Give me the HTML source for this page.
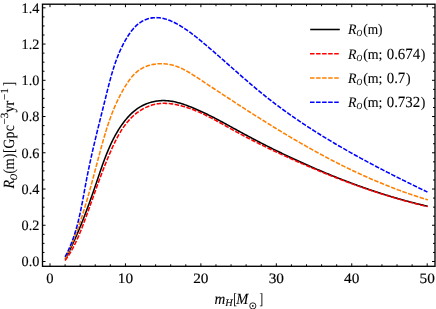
<!DOCTYPE html>
<html><head><meta charset="utf-8"><title>plot</title>
<style>html,body{margin:0;padding:0;background:#fff}svg{display:block;will-change:transform;transform:translateZ(0)}</style></head>
<body>
<svg width="436" height="309" viewBox="0 0 436 309">
<rect width="436" height="309" fill="#fff"/>
<clipPath id="c"><rect x="42.5" y="4.2" width="392.5" height="262.1"/></clipPath>
<g clip-path="url(#c)" fill="none" stroke-width="1.55" stroke-linejoin="round">
<path d="M65.25,259.16 L65.82,258.06 L66.38,256.97 L66.93,255.88 L67.49,254.79 L68.03,253.69 L68.58,252.60 L69.12,251.51 L69.65,250.41 L70.18,249.32 L70.71,248.22 L71.23,247.13 L71.75,246.03 L72.26,244.94 L72.77,243.84 L73.27,242.74 L73.77,241.65 L74.27,240.55 L74.77,239.45 L75.26,238.35 L75.74,237.25 L76.22,236.15 L76.70,235.05 L77.18,233.95 L77.65,232.85 L78.12,231.74 L78.59,230.64 L79.05,229.53 L79.51,228.43 L79.97,227.32 L80.42,226.22 L80.87,225.11 L81.32,224.00 L81.77,222.89 L82.21,221.78 L82.65,220.67 L83.09,219.56 L83.52,218.45 L83.96,217.33 L84.39,216.22 L84.81,215.10 L85.24,213.99 L85.66,212.87 L86.09,211.75 L86.51,210.63 L86.92,209.51 L87.34,208.39 L87.75,207.27 L88.17,206.14 L88.58,205.02 L88.99,203.89 L89.40,202.77 L89.80,201.64 L90.21,200.51 L90.61,199.38 L91.01,198.24 L91.42,197.11 L91.82,195.98 L92.22,194.84 L92.61,193.70 L93.01,192.56 L93.41,191.42 L93.80,190.28 L94.20,189.14 L94.59,187.99 L94.99,186.85 L95.38,185.70 L95.77,184.55 L96.17,183.40 L96.56,182.25 L96.95,181.10 L97.34,179.94 L97.74,178.78 L98.13,177.63 L98.52,176.47 L98.91,175.31 L99.31,174.15 L99.71,172.99 L100.10,171.82 L100.50,170.66 L100.90,169.50 L101.31,168.34 L101.71,167.18 L102.12,166.02 L102.53,164.86 L102.94,163.70 L103.36,162.54 L103.78,161.39 L104.21,160.23 L104.64,159.08 L105.07,157.93 L105.51,156.78 L105.96,155.64 L106.41,154.50 L106.86,153.36 L107.32,152.22 L107.79,151.09 L108.26,149.96 L108.74,148.83 L109.23,147.71 L109.72,146.59 L110.22,145.48 L110.73,144.37 L111.24,143.26 L111.76,142.17 L112.29,141.07 L112.83,139.98 L113.38,138.90 L113.94,137.82 L114.51,136.75 L115.08,135.68 L115.67,134.62 L116.26,133.57 L116.87,132.53 L117.49,131.49 L118.11,130.45 L118.75,129.43 L119.40,128.41 L120.06,127.40 L120.73,126.40 L121.42,125.41 L122.11,124.42 L122.82,123.45 L123.55,122.48 L124.28,121.52 L125.03,120.57 L125.79,119.63 L126.56,118.70 L127.35,117.78 L128.16,116.88 L128.98,115.99 L129.81,115.12 L130.66,114.26 L131.52,113.42 L132.41,112.60 L133.30,111.81 L134.22,111.03 L135.15,110.28 L136.10,109.56 L137.07,108.86 L138.05,108.19 L139.05,107.54 L140.07,106.92 L141.11,106.34 L142.15,105.77 L143.22,105.24 L144.29,104.73 L145.38,104.26 L146.48,103.81 L147.59,103.39 L148.71,103.00 L149.84,102.63 L150.98,102.30 L152.13,101.99 L153.29,101.72 L154.45,101.47 L155.62,101.26 L156.79,101.07 L157.97,100.91 L159.15,100.79 L160.34,100.69 L161.53,100.62 L162.72,100.59 L163.91,100.58 L165.11,100.61 L166.30,100.67 L167.49,100.75 L168.68,100.87 L169.87,101.01 L171.07,101.18 L172.26,101.37 L173.44,101.59 L174.63,101.83 L175.82,102.10 L177.00,102.38 L178.18,102.69 L179.36,103.01 L180.54,103.36 L181.71,103.71 L182.88,104.09 L184.05,104.48 L185.22,104.88 L186.38,105.30 L187.54,105.73 L188.70,106.16 L189.85,106.61 L190.99,107.07 L192.14,107.53 L193.28,108.00 L194.41,108.47 L195.54,108.95 L196.66,109.44 L197.78,109.93 L198.90,110.42 L200.01,110.92 L201.12,111.43 L202.23,111.94 L203.33,112.45 L204.43,112.97 L205.53,113.49 L206.62,114.02 L207.71,114.55 L208.79,115.09 L209.88,115.62 L210.96,116.17 L212.04,116.71 L213.11,117.26 L214.18,117.81 L215.26,118.36 L216.32,118.92 L217.39,119.48 L218.46,120.04 L219.52,120.60 L220.58,121.17 L221.64,121.74 L222.70,122.30 L223.76,122.88 L224.81,123.45 L225.87,124.02 L226.92,124.60 L227.98,125.17 L229.03,125.75 L230.08,126.33 L231.14,126.90 L232.19,127.48 L233.24,128.06 L234.29,128.64 L235.34,129.22 L236.39,129.80 L237.45,130.38 L238.50,130.96 L239.55,131.53 L240.60,132.11 L241.66,132.69 L242.71,133.26 L243.77,133.83 L244.83,134.41 L245.89,134.98 L246.95,135.55 L248.01,136.12 L249.07,136.68 L250.13,137.25 L251.19,137.81 L252.26,138.38 L253.32,138.94 L254.39,139.50 L255.46,140.06 L256.53,140.62 L257.60,141.17 L258.67,141.73 L259.74,142.28 L260.81,142.83 L261.88,143.39 L262.96,143.94 L264.03,144.48 L265.11,145.03 L266.19,145.58 L267.27,146.12 L268.35,146.66 L269.43,147.21 L270.51,147.75 L271.59,148.28 L272.67,148.82 L273.75,149.36 L274.84,149.89 L275.92,150.43 L277.01,150.96 L278.10,151.49 L279.18,152.02 L280.27,152.54 L281.36,153.07 L282.45,153.59 L283.54,154.12 L284.64,154.64 L285.73,155.16 L286.82,155.68 L287.92,156.20 L289.01,156.71 L290.11,157.23 L291.20,157.74 L292.30,158.25 L293.40,158.76 L294.50,159.27 L295.60,159.78 L296.70,160.28 L297.80,160.79 L298.90,161.29 L300.00,161.79 L301.10,162.29 L302.21,162.79 L303.31,163.29 L304.41,163.78 L305.52,164.28 L306.63,164.77 L307.73,165.26 L308.84,165.75 L309.95,166.23 L311.06,166.72 L312.17,167.21 L313.27,167.69 L314.39,168.17 L315.50,168.65 L316.61,169.13 L317.72,169.60 L318.83,170.08 L319.94,170.55 L321.06,171.03 L322.17,171.50 L323.29,171.96 L324.40,172.43 L325.52,172.90 L326.63,173.36 L327.75,173.82 L328.87,174.28 L329.99,174.74 L331.11,175.20 L332.23,175.66 L333.35,176.11 L334.47,176.56 L335.59,177.01 L336.71,177.46 L337.83,177.91 L338.95,178.35 L340.08,178.79 L341.20,179.24 L342.33,179.68 L343.45,180.11 L344.58,180.55 L345.71,180.98 L346.83,181.41 L347.96,181.84 L349.09,182.27 L350.22,182.70 L351.35,183.12 L352.48,183.55 L353.61,183.97 L354.75,184.38 L355.88,184.80 L357.01,185.22 L358.15,185.63 L359.28,186.04 L360.42,186.45 L361.55,186.85 L362.69,187.26 L363.83,187.66 L364.97,188.06 L366.11,188.46 L367.25,188.85 L368.39,189.25 L369.53,189.64 L370.67,190.03 L371.81,190.42 L372.96,190.80 L374.10,191.18 L375.25,191.56 L376.39,191.94 L377.54,192.32 L378.69,192.69 L379.83,193.06 L380.98,193.43 L382.13,193.80 L383.28,194.17 L384.43,194.53 L385.59,194.89 L386.74,195.25 L387.89,195.60 L389.05,195.96 L390.20,196.31 L391.36,196.65 L392.52,197.00 L393.68,197.34 L394.83,197.69 L395.99,198.02 L397.15,198.36 L398.31,198.69 L399.48,199.03 L400.64,199.35 L401.80,199.68 L402.97,200.00 L404.13,200.33 L405.30,200.64 L406.47,200.96 L407.64,201.27 L408.80,201.58 L409.97,201.89 L411.15,202.20 L412.32,202.50 L413.49,202.80 L414.66,203.10 L415.84,203.40 L417.01,203.69 L418.19,203.98 L419.37,204.26 L420.54,204.55 L421.72,204.83 L422.90,205.11 L424.08,205.39 L425.27,205.66 L426.45,205.93 L427.63,206.20" stroke="#000"/>
<path d="M65.04,260.51 L65.75,259.53 L66.45,258.55 L67.13,257.57 L67.80,256.57 L68.45,255.56 L69.10,254.55 L69.73,253.53 L70.35,252.50 L70.96,251.47 L71.55,250.43 L72.14,249.38 L72.72,248.33 L73.28,247.27 L73.84,246.20 L74.38,245.13 L74.92,244.06 L75.45,242.97 L75.97,241.89 L76.48,240.80 L76.98,239.70 L77.48,238.60 L77.97,237.50 L78.45,236.40 L78.93,235.29 L79.40,234.18 L79.86,233.06 L80.32,231.94 L80.77,230.83 L81.22,229.71 L81.66,228.58 L82.10,227.46 L82.53,226.33 L82.96,225.21 L83.39,224.08 L83.81,222.95 L84.23,221.83 L84.65,220.70 L85.06,219.57 L85.48,218.45 L85.89,217.32 L86.30,216.20 L86.71,215.08 L87.12,213.95 L87.52,212.83 L87.93,211.71 L88.33,210.58 L88.73,209.46 L89.14,208.34 L89.54,207.22 L89.94,206.10 L90.34,204.98 L90.73,203.86 L91.13,202.74 L91.53,201.62 L91.93,200.50 L92.33,199.38 L92.72,198.26 L93.12,197.14 L93.52,196.02 L93.92,194.90 L94.32,193.78 L94.71,192.66 L95.11,191.54 L95.51,190.42 L95.92,189.30 L96.32,188.19 L96.72,187.07 L97.13,185.95 L97.53,184.83 L97.94,183.71 L98.35,182.59 L98.76,181.47 L99.17,180.35 L99.58,179.23 L100.00,178.11 L100.41,176.99 L100.83,175.87 L101.25,174.74 L101.68,173.62 L102.11,172.50 L102.53,171.38 L102.97,170.26 L103.40,169.13 L103.84,168.01 L104.28,166.88 L104.72,165.76 L105.17,164.63 L105.61,163.51 L106.07,162.38 L106.52,161.25 L106.98,160.13 L107.45,159.00 L107.91,157.87 L108.39,156.74 L108.86,155.61 L109.34,154.48 L109.82,153.35 L110.31,152.21 L110.80,151.08 L111.30,149.95 L111.80,148.81 L112.31,147.68 L112.82,146.55 L113.34,145.42 L113.87,144.30 L114.41,143.18 L114.95,142.06 L115.50,140.95 L116.06,139.84 L116.62,138.73 L117.20,137.64 L117.78,136.55 L118.38,135.47 L118.98,134.39 L119.60,133.33 L120.22,132.27 L120.86,131.22 L121.51,130.18 L122.17,129.16 L122.85,128.14 L123.54,127.14 L124.24,126.15 L124.95,125.17 L125.68,124.21 L126.42,123.26 L127.18,122.32 L127.95,121.41 L128.73,120.50 L129.54,119.62 L130.36,118.75 L131.19,117.89 L132.05,117.06 L132.91,116.24 L133.80,115.45 L134.70,114.67 L135.61,113.92 L136.54,113.18 L137.48,112.47 L138.44,111.78 L139.41,111.11 L140.39,110.47 L141.39,109.85 L142.40,109.25 L143.42,108.68 L144.45,108.14 L145.49,107.62 L146.55,107.13 L147.61,106.67 L148.69,106.23 L149.77,105.82 L150.87,105.44 L151.97,105.09 L153.08,104.78 L154.20,104.49 L155.33,104.23 L156.47,104.01 L157.61,103.82 L158.76,103.66 L159.92,103.53 L161.08,103.44 L162.25,103.37 L163.42,103.34 L164.60,103.34 L165.78,103.36 L166.97,103.41 L168.15,103.49 L169.34,103.59 L170.54,103.72 L171.73,103.87 L172.92,104.04 L174.12,104.24 L175.31,104.45 L176.51,104.69 L177.70,104.95 L178.89,105.22 L180.07,105.51 L181.26,105.82 L182.44,106.14 L183.62,106.48 L184.79,106.83 L185.96,107.20 L187.12,107.57 L188.28,107.96 L189.43,108.36 L190.58,108.77 L191.72,109.19 L192.85,109.62 L193.98,110.06 L195.11,110.51 L196.23,110.97 L197.34,111.43 L198.45,111.91 L199.56,112.39 L200.66,112.88 L201.76,113.38 L202.86,113.89 L203.95,114.40 L205.04,114.92 L206.12,115.45 L207.20,115.98 L208.28,116.51 L209.35,117.06 L210.43,117.61 L211.50,118.16 L212.56,118.72 L213.63,119.28 L214.69,119.84 L215.75,120.41 L216.81,120.98 L217.87,121.56 L218.92,122.13 L219.98,122.71 L221.03,123.30 L222.08,123.88 L223.14,124.47 L224.19,125.05 L225.24,125.64 L226.29,126.23 L227.34,126.81 L228.39,127.40 L229.43,127.99 L230.48,128.58 L231.53,129.16 L232.59,129.74 L233.64,130.33 L234.69,130.91 L235.74,131.49 L236.80,132.06 L237.85,132.64 L238.91,133.21 L239.96,133.78 L241.02,134.35 L242.08,134.91 L243.14,135.48 L244.20,136.04 L245.26,136.60 L246.32,137.16 L247.39,137.72 L248.45,138.27 L249.52,138.82 L250.58,139.37 L251.65,139.92 L252.72,140.47 L253.79,141.01 L254.85,141.56 L255.92,142.10 L257.00,142.64 L258.07,143.18 L259.14,143.71 L260.21,144.25 L261.29,144.78 L262.36,145.31 L263.44,145.84 L264.52,146.37 L265.59,146.89 L266.67,147.42 L267.75,147.94 L268.83,148.46 L269.91,148.98 L270.99,149.50 L272.07,150.02 L273.16,150.53 L274.24,151.04 L275.33,151.56 L276.41,152.07 L277.50,152.57 L278.58,153.08 L279.67,153.59 L280.76,154.09 L281.85,154.59 L282.94,155.10 L284.03,155.60 L285.12,156.10 L286.21,156.59 L287.30,157.09 L288.39,157.58 L289.49,158.08 L290.58,158.57 L291.68,159.06 L292.77,159.55 L293.87,160.04 L294.97,160.53 L296.06,161.01 L297.16,161.50 L298.26,161.98 L299.36,162.46 L300.46,162.95 L301.56,163.43 L302.66,163.91 L303.76,164.38 L304.87,164.86 L305.97,165.34 L307.07,165.81 L308.18,166.28 L309.28,166.76 L310.39,167.23 L311.49,167.70 L312.60,168.17 L313.71,168.63 L314.82,169.10 L315.93,169.56 L317.04,170.03 L318.15,170.49 L319.26,170.95 L320.37,171.41 L321.48,171.87 L322.59,172.32 L323.70,172.78 L324.82,173.23 L325.93,173.68 L327.05,174.14 L328.16,174.58 L329.28,175.03 L330.39,175.48 L331.51,175.92 L332.63,176.37 L333.75,176.81 L334.87,177.25 L335.99,177.69 L337.11,178.13 L338.23,178.56 L339.35,179.00 L340.47,179.43 L341.60,179.86 L342.72,180.29 L343.84,180.72 L344.97,181.14 L346.09,181.57 L347.22,181.99 L348.35,182.41 L349.47,182.83 L350.60,183.25 L351.73,183.66 L352.86,184.08 L353.99,184.49 L355.12,184.90 L356.25,185.31 L357.38,185.71 L358.51,186.12 L359.65,186.52 L360.78,186.92 L361.91,187.32 L363.05,187.72 L364.19,188.12 L365.32,188.51 L366.46,188.90 L367.59,189.29 L368.73,189.68 L369.87,190.07 L371.01,190.45 L372.15,190.83 L373.29,191.21 L374.43,191.59 L375.57,191.97 L376.72,192.34 L377.86,192.71 L379.00,193.08 L380.15,193.45 L381.29,193.81 L382.44,194.18 L383.58,194.54 L384.73,194.90 L385.88,195.26 L387.02,195.61 L388.17,195.96 L389.32,196.31 L390.47,196.66 L391.62,197.01 L392.77,197.35 L393.93,197.69 L395.08,198.03 L396.23,198.37 L397.38,198.71 L398.54,199.04 L399.69,199.37 L400.85,199.70 L402.00,200.02 L403.16,200.35 L404.32,200.67 L405.48,200.98 L406.64,201.30 L407.79,201.61 L408.95,201.93 L410.12,202.23 L411.28,202.54 L412.44,202.84 L413.60,203.15 L414.76,203.45 L415.93,203.74 L417.09,204.04 L418.26,204.33 L419.42,204.62 L420.59,204.90 L421.76,205.19 L422.92,205.47 L424.09,205.74 L425.26,206.02 L426.43,206.29 L427.60,206.56" stroke="#ff0000" stroke-dasharray="4.55 1.5"/>
<path d="M65.22,258.48 L65.81,257.28 L66.39,256.08 L66.96,254.88 L67.53,253.67 L68.08,252.46 L68.64,251.25 L69.18,250.04 L69.72,248.83 L70.26,247.61 L70.78,246.39 L71.31,245.17 L71.82,243.95 L72.33,242.73 L72.84,241.51 L73.34,240.28 L73.83,239.05 L74.32,237.82 L74.80,236.59 L75.28,235.36 L75.75,234.12 L76.22,232.89 L76.68,231.65 L77.14,230.41 L77.59,229.17 L78.04,227.93 L78.49,226.68 L78.93,225.44 L79.36,224.19 L79.79,222.94 L80.22,221.69 L80.64,220.44 L81.06,219.19 L81.48,217.94 L81.89,216.68 L82.30,215.43 L82.70,214.17 L83.10,212.91 L83.50,211.65 L83.89,210.39 L84.28,209.13 L84.67,207.87 L85.06,206.61 L85.44,205.34 L85.82,204.08 L86.19,202.81 L86.57,201.54 L86.94,200.27 L87.31,199.01 L87.68,197.74 L88.04,196.46 L88.40,195.19 L88.76,193.92 L89.12,192.65 L89.48,191.37 L89.83,190.10 L90.18,188.82 L90.54,187.54 L90.89,186.27 L91.23,184.99 L91.58,183.71 L91.93,182.43 L92.27,181.15 L92.62,179.87 L92.96,178.59 L93.30,177.31 L93.64,176.03 L93.98,174.75 L94.32,173.47 L94.66,172.18 L95.00,170.90 L95.34,169.62 L95.68,168.33 L96.02,167.05 L96.36,165.76 L96.70,164.48 L97.04,163.19 L97.38,161.91 L97.72,160.62 L98.06,159.34 L98.40,158.05 L98.74,156.77 L99.08,155.48 L99.43,154.20 L99.77,152.91 L100.12,151.62 L100.46,150.34 L100.81,149.05 L101.16,147.77 L101.51,146.48 L101.87,145.20 L102.22,143.91 L102.58,142.63 L102.94,141.35 L103.31,140.07 L103.68,138.79 L104.05,137.51 L104.42,136.23 L104.80,134.95 L105.18,133.67 L105.57,132.40 L105.96,131.13 L106.35,129.86 L106.75,128.59 L107.16,127.32 L107.57,126.05 L107.98,124.79 L108.40,123.53 L108.83,122.27 L109.26,121.01 L109.70,119.76 L110.15,118.51 L110.60,117.26 L111.06,116.01 L111.52,114.77 L112.00,113.53 L112.48,112.29 L112.97,111.06 L113.46,109.83 L113.97,108.60 L114.48,107.38 L115.00,106.16 L115.53,104.94 L116.07,103.73 L116.62,102.52 L117.18,101.31 L117.75,100.11 L118.32,98.92 L118.91,97.72 L119.51,96.54 L120.12,95.35 L120.74,94.17 L121.37,93.00 L122.01,91.83 L122.66,90.67 L123.32,89.51 L124.00,88.35 L124.68,87.21 L125.38,86.06 L126.10,84.92 L126.82,83.79 L127.56,82.67 L128.32,81.56 L129.09,80.47 L129.88,79.39 L130.69,78.33 L131.52,77.30 L132.37,76.29 L133.25,75.30 L134.15,74.35 L135.08,73.43 L136.04,72.55 L137.03,71.70 L138.04,70.89 L139.09,70.13 L140.17,69.41 L141.28,68.74 L142.41,68.11 L143.57,67.52 L144.76,66.98 L145.97,66.48 L147.19,66.02 L148.44,65.60 L149.71,65.23 L150.98,64.90 L152.28,64.61 L153.58,64.36 L154.89,64.15 L156.22,63.98 L157.54,63.85 L158.88,63.77 L160.21,63.72 L161.55,63.71 L162.88,63.74 L164.21,63.81 L165.54,63.92 L166.86,64.07 L168.17,64.25 L169.48,64.47 L170.77,64.73 L172.04,65.03 L173.31,65.36 L174.56,65.73 L175.80,66.13 L177.02,66.56 L178.24,67.03 L179.45,67.52 L180.64,68.03 L181.83,68.57 L183.00,69.14 L184.17,69.73 L185.33,70.34 L186.49,70.96 L187.63,71.61 L188.77,72.27 L189.91,72.94 L191.04,73.63 L192.17,74.33 L193.29,75.04 L194.41,75.76 L195.52,76.48 L196.64,77.21 L197.75,77.95 L198.86,78.68 L199.97,79.42 L201.09,80.15 L202.20,80.89 L203.31,81.63 L204.42,82.36 L205.53,83.10 L206.65,83.83 L207.76,84.57 L208.87,85.31 L209.98,86.04 L211.09,86.78 L212.20,87.51 L213.32,88.25 L214.43,88.98 L215.54,89.71 L216.65,90.45 L217.76,91.18 L218.88,91.91 L219.99,92.65 L221.10,93.38 L222.21,94.11 L223.33,94.84 L224.44,95.57 L225.55,96.30 L226.66,97.03 L227.78,97.76 L228.89,98.49 L230.01,99.22 L231.12,99.95 L232.23,100.68 L233.35,101.41 L234.46,102.13 L235.58,102.86 L236.69,103.58 L237.81,104.31 L238.92,105.03 L240.04,105.75 L241.16,106.48 L242.27,107.20 L243.39,107.92 L244.51,108.64 L245.62,109.36 L246.74,110.08 L247.86,110.80 L248.98,111.51 L250.10,112.23 L251.22,112.95 L252.34,113.66 L253.46,114.37 L254.58,115.09 L255.70,115.80 L256.82,116.51 L257.94,117.22 L259.07,117.93 L260.19,118.64 L261.31,119.34 L262.44,120.05 L263.56,120.75 L264.68,121.46 L265.81,122.16 L266.94,122.86 L268.06,123.56 L269.19,124.26 L270.32,124.96 L271.45,125.66 L272.57,126.35 L273.70,127.05 L274.83,127.74 L275.96,128.43 L277.09,129.12 L278.23,129.81 L279.36,130.50 L280.49,131.19 L281.63,131.87 L282.76,132.56 L283.90,133.24 L285.03,133.92 L286.17,134.60 L287.30,135.28 L288.44,135.96 L289.58,136.63 L290.72,137.31 L291.86,137.98 L293.00,138.65 L294.14,139.32 L295.29,139.99 L296.43,140.65 L297.57,141.32 L298.72,141.98 L299.86,142.64 L301.01,143.30 L302.16,143.96 L303.30,144.62 L304.45,145.27 L305.60,145.93 L306.75,146.58 L307.91,147.23 L309.06,147.88 L310.21,148.52 L311.37,149.17 L312.52,149.81 L313.68,150.45 L314.83,151.09 L315.99,151.73 L317.15,152.36 L318.31,152.99 L319.47,153.63 L320.63,154.25 L321.80,154.88 L322.96,155.51 L324.13,156.13 L325.29,156.75 L326.46,157.37 L327.63,157.99 L328.80,158.60 L329.97,159.22 L331.14,159.83 L332.31,160.44 L333.48,161.04 L334.66,161.65 L335.84,162.25 L337.01,162.85 L338.19,163.45 L339.37,164.04 L340.55,164.64 L341.73,165.23 L342.91,165.82 L344.10,166.40 L345.28,166.99 L346.47,167.57 L347.66,168.15 L348.85,168.72 L350.04,169.30 L351.23,169.87 L352.42,170.44 L353.61,171.01 L354.81,171.57 L356.01,172.14 L357.20,172.70 L358.40,173.25 L359.60,173.81 L360.81,174.36 L362.01,174.91 L363.21,175.46 L364.42,176.00 L365.63,176.54 L366.84,177.08 L368.05,177.62 L369.26,178.15 L370.47,178.68 L371.68,179.21 L372.90,179.74 L374.12,180.26 L375.33,180.78 L376.55,181.30 L377.78,181.81 L379.00,182.32 L380.22,182.83 L381.45,183.34 L382.68,183.84 L383.91,184.34 L385.14,184.84 L386.37,185.33 L387.60,185.83 L388.84,186.31 L390.07,186.80 L391.31,187.28 L392.55,187.76 L393.79,188.24 L395.04,188.71 L396.28,189.18 L397.53,189.65 L398.78,190.11 L400.03,190.57 L401.28,191.03 L402.53,191.49 L403.79,191.94 L405.04,192.38 L406.30,192.83 L407.56,193.27 L408.82,193.71 L410.09,194.14 L411.35,194.58 L412.62,195.01 L413.89,195.43 L415.16,195.85 L416.43,196.27 L417.70,196.69 L418.98,197.10 L420.26,197.51 L421.54,197.91 L422.82,198.31 L424.10,198.71 L425.38,199.10 L426.67,199.50 L427.96,199.88" stroke="#ff8000" stroke-dasharray="4.55 1.5"/>
<path d="M65.04,256.88 L65.75,255.56 L66.43,254.24 L67.10,252.91 L67.75,251.58 L68.39,250.23 L69.00,248.89 L69.60,247.53 L70.18,246.18 L70.75,244.81 L71.30,243.44 L71.83,242.07 L72.35,240.69 L72.86,239.30 L73.35,237.92 L73.83,236.52 L74.30,235.13 L74.75,233.72 L75.19,232.32 L75.62,230.91 L76.04,229.49 L76.44,228.08 L76.84,226.65 L77.22,225.23 L77.60,223.80 L77.97,222.37 L78.33,220.94 L78.67,219.50 L79.02,218.06 L79.35,216.62 L79.68,215.17 L80.00,213.73 L80.31,212.28 L80.62,210.83 L80.92,209.37 L81.21,207.92 L81.51,206.46 L81.79,205.01 L82.08,203.55 L82.36,202.09 L82.63,200.63 L82.91,199.16 L83.18,197.70 L83.45,196.24 L83.72,194.77 L83.99,193.31 L84.25,191.85 L84.52,190.38 L84.79,188.92 L85.05,187.45 L85.32,185.99 L85.59,184.53 L85.87,183.06 L86.14,181.60 L86.42,180.14 L86.70,178.68 L86.98,177.22 L87.27,175.77 L87.56,174.31 L87.85,172.86 L88.15,171.40 L88.44,169.95 L88.74,168.50 L89.05,167.04 L89.35,165.59 L89.66,164.14 L89.98,162.70 L90.29,161.25 L90.61,159.80 L90.92,158.36 L91.25,156.91 L91.57,155.46 L91.89,154.02 L92.22,152.58 L92.55,151.13 L92.88,149.69 L93.21,148.25 L93.55,146.81 L93.89,145.37 L94.22,143.93 L94.56,142.49 L94.91,141.05 L95.25,139.61 L95.59,138.18 L95.94,136.74 L96.29,135.30 L96.63,133.86 L96.98,132.43 L97.33,130.99 L97.69,129.56 L98.04,128.12 L98.39,126.68 L98.75,125.25 L99.10,123.81 L99.46,122.38 L99.81,120.94 L100.17,119.51 L100.53,118.08 L100.88,116.64 L101.24,115.21 L101.60,113.77 L101.96,112.34 L102.32,110.90 L102.68,109.47 L103.04,108.03 L103.39,106.60 L103.75,105.16 L104.11,103.73 L104.47,102.29 L104.83,100.86 L105.19,99.42 L105.55,97.99 L105.90,96.55 L106.26,95.11 L106.62,93.68 L106.97,92.24 L107.33,90.80 L107.69,89.37 L108.05,87.93 L108.41,86.50 L108.78,85.06 L109.15,83.63 L109.52,82.19 L109.90,80.76 L110.29,79.33 L110.68,77.90 L111.07,76.48 L111.47,75.05 L111.88,73.63 L112.30,72.21 L112.73,70.79 L113.16,69.37 L113.61,67.96 L114.06,66.55 L114.52,65.14 L115.00,63.73 L115.49,62.33 L115.98,60.93 L116.50,59.54 L117.02,58.15 L117.56,56.76 L118.11,55.38 L118.68,54.00 L119.26,52.62 L119.86,51.25 L120.47,49.89 L121.10,48.53 L121.75,47.17 L122.42,45.82 L123.10,44.47 L123.80,43.13 L124.53,41.80 L125.27,40.47 L126.03,39.15 L126.82,37.83 L127.62,36.53 L128.45,35.24 L129.31,33.97 L130.18,32.72 L131.08,31.50 L132.01,30.31 L132.96,29.15 L133.95,28.03 L134.95,26.95 L135.99,25.91 L137.06,24.93 L138.16,23.99 L139.29,23.11 L140.45,22.29 L141.64,21.54 L142.86,20.84 L144.12,20.22 L145.41,19.66 L146.72,19.18 L148.06,18.75 L149.41,18.40 L150.79,18.11 L152.18,17.89 L153.59,17.74 L155.00,17.65 L156.43,17.63 L157.85,17.68 L159.29,17.80 L160.72,17.97 L162.15,18.22 L163.57,18.52 L165.00,18.88 L166.42,19.30 L167.83,19.77 L169.24,20.28 L170.64,20.84 L172.03,21.44 L173.42,22.08 L174.79,22.75 L176.16,23.46 L177.51,24.19 L178.85,24.95 L180.18,25.73 L181.49,26.54 L182.78,27.35 L184.06,28.18 L185.33,29.03 L186.58,29.88 L187.81,30.74 L189.03,31.61 L190.24,32.49 L191.43,33.38 L192.62,34.27 L193.79,35.18 L194.96,36.09 L196.12,37.00 L197.27,37.93 L198.42,38.85 L199.56,39.78 L200.70,40.72 L201.83,41.66 L202.97,42.60 L204.10,43.55 L205.23,44.49 L206.35,45.44 L207.48,46.40 L208.60,47.35 L209.73,48.31 L210.85,49.27 L211.97,50.23 L213.08,51.20 L214.20,52.16 L215.32,53.13 L216.43,54.10 L217.55,55.07 L218.66,56.04 L219.77,57.02 L220.88,57.99 L221.99,58.97 L223.10,59.94 L224.21,60.92 L225.32,61.90 L226.43,62.88 L227.54,63.85 L228.65,64.83 L229.76,65.81 L230.87,66.79 L231.98,67.77 L233.09,68.75 L234.20,69.73 L235.31,70.71 L236.42,71.69 L237.54,72.66 L238.65,73.64 L239.76,74.62 L240.88,75.59 L241.99,76.57 L243.11,77.54 L244.23,78.51 L245.35,79.48 L246.47,80.45 L247.59,81.42 L248.71,82.38 L249.84,83.34 L250.97,84.30 L252.09,85.26 L253.23,86.22 L254.36,87.17 L255.49,88.13 L256.63,89.08 L257.77,90.02 L258.91,90.97 L260.05,91.91 L261.20,92.84 L262.35,93.78 L263.50,94.71 L264.66,95.64 L265.81,96.56 L266.97,97.48 L268.14,98.40 L269.30,99.31 L270.47,100.22 L271.64,101.13 L272.82,102.03 L273.99,102.93 L275.17,103.82 L276.35,104.72 L277.54,105.61 L278.73,106.49 L279.92,107.37 L281.11,108.25 L282.30,109.13 L283.50,110.00 L284.70,110.87 L285.90,111.74 L287.11,112.60 L288.31,113.46 L289.52,114.32 L290.73,115.17 L291.95,116.02 L293.16,116.87 L294.38,117.71 L295.60,118.55 L296.82,119.39 L298.05,120.23 L299.27,121.06 L300.50,121.89 L301.73,122.71 L302.96,123.54 L304.20,124.36 L305.43,125.17 L306.67,125.99 L307.91,126.80 L309.15,127.61 L310.40,128.41 L311.64,129.22 L312.89,130.02 L314.14,130.81 L315.39,131.61 L316.64,132.40 L317.90,133.19 L319.15,133.98 L320.41,134.76 L321.67,135.54 L322.93,136.32 L324.19,137.09 L325.46,137.87 L326.72,138.64 L327.99,139.41 L329.26,140.17 L330.53,140.94 L331.80,141.70 L333.07,142.45 L334.34,143.21 L335.62,143.96 L336.90,144.71 L338.17,145.46 L339.45,146.21 L340.73,146.95 L342.02,147.70 L343.30,148.44 L344.59,149.17 L345.87,149.91 L347.16,150.64 L348.45,151.37 L349.74,152.10 L351.03,152.83 L352.32,153.55 L353.61,154.27 L354.91,154.99 L356.21,155.71 L357.50,156.43 L358.80,157.14 L360.10,157.85 L361.40,158.56 L362.70,159.27 L364.00,159.98 L365.31,160.68 L366.61,161.38 L367.92,162.08 L369.22,162.78 L370.53,163.48 L371.84,164.18 L373.15,164.87 L374.46,165.56 L375.77,166.25 L377.08,166.94 L378.39,167.63 L379.71,168.31 L381.02,168.99 L382.34,169.68 L383.65,170.36 L384.97,171.04 L386.29,171.71 L387.61,172.39 L388.92,173.06 L390.24,173.74 L391.56,174.41 L392.89,175.08 L394.21,175.74 L395.53,176.41 L396.85,177.08 L398.18,177.74 L399.50,178.40 L400.82,179.07 L402.15,179.73 L403.48,180.39 L404.80,181.04 L406.13,181.70 L407.46,182.36 L408.78,183.01 L410.11,183.66 L411.44,184.32 L412.77,184.97 L414.10,185.62 L415.43,186.27 L416.76,186.92 L418.09,187.56 L419.42,188.21 L420.75,188.85 L422.08,189.50 L423.42,190.14 L424.75,190.78 L426.08,191.42 L427.41,192.07" stroke="#0000ff" stroke-dasharray="4.55 1.5"/>
</g>
<rect x="42.5" y="4.2" width="392.5" height="262.1" fill="none" stroke="#000" stroke-width="1.35"/>
<path d="M50.00,266.3v-3.0M50.00,4.2v3.0M65.09,266.3v-2.0M65.09,4.2v2.0M80.18,266.3v-2.0M80.18,4.2v2.0M95.26,266.3v-2.0M95.26,4.2v2.0M110.35,266.3v-2.0M110.35,4.2v2.0M125.44,266.3v-3.0M125.44,4.2v3.0M140.53,266.3v-2.0M140.53,4.2v2.0M155.62,266.3v-2.0M155.62,4.2v2.0M170.70,266.3v-2.0M170.70,4.2v2.0M185.79,266.3v-2.0M185.79,4.2v2.0M200.88,266.3v-3.0M200.88,4.2v3.0M215.97,266.3v-2.0M215.97,4.2v2.0M231.06,266.3v-2.0M231.06,4.2v2.0M246.14,266.3v-2.0M246.14,4.2v2.0M261.23,266.3v-2.0M261.23,4.2v2.0M276.32,266.3v-3.0M276.32,4.2v3.0M291.41,266.3v-2.0M291.41,4.2v2.0M306.50,266.3v-2.0M306.50,4.2v2.0M321.58,266.3v-2.0M321.58,4.2v2.0M336.67,266.3v-2.0M336.67,4.2v2.0M351.76,266.3v-3.0M351.76,4.2v3.0M366.85,266.3v-2.0M366.85,4.2v2.0M381.94,266.3v-2.0M381.94,4.2v2.0M397.02,266.3v-2.0M397.02,4.2v2.0M412.11,266.3v-2.0M412.11,4.2v2.0M427.20,266.3v-3.0M427.20,4.2v3.0M42.5,261.50h3.0M435.0,261.50h-3.0M42.5,252.44h2.0M435.0,252.44h-2.0M42.5,243.38h2.0M435.0,243.38h-2.0M42.5,234.32h2.0M435.0,234.32h-2.0M42.5,225.26h3.0M435.0,225.26h-3.0M42.5,216.20h2.0M435.0,216.20h-2.0M42.5,207.14h2.0M435.0,207.14h-2.0M42.5,198.08h2.0M435.0,198.08h-2.0M42.5,189.02h3.0M435.0,189.02h-3.0M42.5,179.96h2.0M435.0,179.96h-2.0M42.5,170.90h2.0M435.0,170.90h-2.0M42.5,161.84h2.0M435.0,161.84h-2.0M42.5,152.78h3.0M435.0,152.78h-3.0M42.5,143.72h2.0M435.0,143.72h-2.0M42.5,134.66h2.0M435.0,134.66h-2.0M42.5,125.60h2.0M435.0,125.60h-2.0M42.5,116.54h3.0M435.0,116.54h-3.0M42.5,107.48h2.0M435.0,107.48h-2.0M42.5,98.42h2.0M435.0,98.42h-2.0M42.5,89.36h2.0M435.0,89.36h-2.0M42.5,80.30h3.0M435.0,80.30h-3.0M42.5,71.24h2.0M435.0,71.24h-2.0M42.5,62.18h2.0M435.0,62.18h-2.0M42.5,53.12h2.0M435.0,53.12h-2.0M42.5,44.06h3.0M435.0,44.06h-3.0M42.5,35.00h2.0M435.0,35.00h-2.0M42.5,25.94h2.0M435.0,25.94h-2.0M42.5,16.88h2.0M435.0,16.88h-2.0M42.5,7.82h3.0M435.0,7.82h-3.0" stroke="#000" stroke-width="1.0" fill="none"/>
<g font-family="Liberation Serif, serif" text-rendering="geometricPrecision" fill="#000" stroke="#000" stroke-width="0.15" font-size="14.3">
<text x="21.6" y="266.40" textLength="17.8" lengthAdjust="spacingAndGlyphs">0.0</text>
<text x="21.6" y="230.16" textLength="17.8" lengthAdjust="spacingAndGlyphs">0.2</text>
<text x="21.6" y="193.92" textLength="17.8" lengthAdjust="spacingAndGlyphs">0.4</text>
<text x="21.6" y="157.68" textLength="17.8" lengthAdjust="spacingAndGlyphs">0.6</text>
<text x="21.6" y="121.44" textLength="17.8" lengthAdjust="spacingAndGlyphs">0.8</text>
<text x="21.6" y="85.20" textLength="17.8" lengthAdjust="spacingAndGlyphs">1.0</text>
<text x="21.6" y="48.96" textLength="17.8" lengthAdjust="spacingAndGlyphs">1.2</text>
<text x="21.6" y="12.72" textLength="17.8" lengthAdjust="spacingAndGlyphs">1.4</text>
<text x="46.35" y="282.5" textLength="7.3" lengthAdjust="spacingAndGlyphs">0</text>
<text x="117.79" y="282.5" textLength="15.3" lengthAdjust="spacingAndGlyphs">10</text>
<text x="193.23" y="282.5" textLength="15.3" lengthAdjust="spacingAndGlyphs">20</text>
<text x="268.67" y="282.5" textLength="15.3" lengthAdjust="spacingAndGlyphs">30</text>
<text x="344.11" y="282.5" textLength="15.3" lengthAdjust="spacingAndGlyphs">40</text>
<text x="419.55" y="282.5" textLength="15.3" lengthAdjust="spacingAndGlyphs">50</text>
</g>
<g fill="none" stroke-width="1.55">
<path d="M310.2,29.5H339.8" stroke="#000"/>
<path d="M310,53.7H339" stroke="#ff0000" stroke-dasharray="4.55 1.5"/>
<path d="M310,77.9H339" stroke="#ff8000" stroke-dasharray="4.55 1.5"/>
<path d="M310,102.2H339" stroke="#0000ff" stroke-dasharray="4.55 1.5"/>
</g>
<g font-family="Liberation Serif, serif" text-rendering="geometricPrecision" fill="#000" stroke="#000" stroke-width="0.1" font-size="14.6">
<text x="348.0" y="33.80" font-style="italic" textLength="8.5" lengthAdjust="spacingAndGlyphs">R</text>
<text x="356.5" y="36.10" font-style="italic" font-size="9.2" textLength="5.7" lengthAdjust="spacingAndGlyphs">O</text>
<text x="363.2" y="33.80" textLength="19.3" lengthAdjust="spacingAndGlyphs">(m)</text>
<text x="348.0" y="58.60" font-style="italic" textLength="8.5" lengthAdjust="spacingAndGlyphs">R</text>
<text x="356.5" y="60.90" font-style="italic" font-size="9.2" textLength="5.7" lengthAdjust="spacingAndGlyphs">O</text>
<text x="363.2" y="58.60" textLength="19.3" lengthAdjust="spacingAndGlyphs">(m;</text>
<text x="386.7" y="58.60" font-size="15.5" textLength="33.52" lengthAdjust="spacingAndGlyphs">0.674</text>
<text x="420.82" y="58.60" textLength="4.6" lengthAdjust="spacingAndGlyphs">)</text>
<text x="348.0" y="82.60" font-style="italic" textLength="8.5" lengthAdjust="spacingAndGlyphs">R</text>
<text x="356.5" y="84.90" font-style="italic" font-size="9.2" textLength="5.7" lengthAdjust="spacingAndGlyphs">O</text>
<text x="363.2" y="82.60" textLength="19.3" lengthAdjust="spacingAndGlyphs">(m;</text>
<text x="386.7" y="82.60" font-size="15.5" textLength="18.62" lengthAdjust="spacingAndGlyphs">0.7</text>
<text x="405.93" y="82.60" textLength="4.6" lengthAdjust="spacingAndGlyphs">)</text>
<text x="348.0" y="106.60" font-style="italic" textLength="8.5" lengthAdjust="spacingAndGlyphs">R</text>
<text x="356.5" y="108.90" font-style="italic" font-size="9.2" textLength="5.7" lengthAdjust="spacingAndGlyphs">O</text>
<text x="363.2" y="106.60" textLength="19.3" lengthAdjust="spacingAndGlyphs">(m;</text>
<text x="386.7" y="106.60" font-size="15.5" textLength="33.52" lengthAdjust="spacingAndGlyphs">0.732</text>
<text x="420.82" y="106.60" textLength="4.6" lengthAdjust="spacingAndGlyphs">)</text>
</g>
<g font-family="Liberation Serif, serif" text-rendering="geometricPrecision" fill="#000" stroke="#000" stroke-width="0.1" font-size="15.6">
<text x="214.4" y="304.1" font-size="15.6" font-style="italic" textLength="10.8" lengthAdjust="spacingAndGlyphs">m</text>
<text x="225.3" y="306.0" font-size="9.8" font-style="italic" textLength="7.4" lengthAdjust="spacingAndGlyphs">H</text>
<text x="233.2" y="304.1" font-size="15.6" textLength="3.6" lengthAdjust="spacingAndGlyphs">[</text>
<text x="236.2" y="304.1" font-size="15.6" font-style="italic" textLength="12.0" lengthAdjust="spacingAndGlyphs">M</text>
<text x="259.4" y="304.1" font-size="15.6" textLength="3.6" lengthAdjust="spacingAndGlyphs">]</text>
<circle cx="252.8" cy="305.9" r="3.1" fill="none" stroke="#000" stroke-width="0.85"/><circle cx="252.8" cy="305.9" r="0.85" stroke="none"/>
<g transform="translate(13.9,188.5) rotate(-90)">
<text x="0" y="0" font-size="15.6" font-style="italic" textLength="8.6" lengthAdjust="spacingAndGlyphs">R</text>
<text x="8.2" y="3.0" font-size="10.0" font-style="italic" textLength="6.4" lengthAdjust="spacingAndGlyphs">O</text>
<text x="15.0" y="0" font-size="15.6" textLength="4.4" lengthAdjust="spacingAndGlyphs">(</text>
<text x="19.0" y="0" font-size="15.6" textLength="11.2" lengthAdjust="spacingAndGlyphs">m</text>
<text x="30.6" y="0" font-size="15.6" textLength="4.4" lengthAdjust="spacingAndGlyphs">)</text>
<text x="35.6" y="0" font-size="15.6" textLength="4.2" lengthAdjust="spacingAndGlyphs">[</text>
<text x="40.1" y="0" font-size="15.6" textLength="9.8" lengthAdjust="spacingAndGlyphs">G</text>
<text x="49.9" y="0" font-size="15.6" textLength="7.0" lengthAdjust="spacingAndGlyphs">p</text>
<text x="57.2" y="0" font-size="15.6" textLength="6.2" lengthAdjust="spacingAndGlyphs">c</text>
<text x="64.0" y="-5.6" font-size="11.0" textLength="12.0" lengthAdjust="spacingAndGlyphs">−3</text>
<text x="76.0" y="0" font-size="15.6" textLength="7.0" lengthAdjust="spacingAndGlyphs">y</text>
<text x="82.8" y="0" font-size="15.6" textLength="5.0" lengthAdjust="spacingAndGlyphs">r</text>
<text x="88.4" y="-5.6" font-size="11.0" textLength="12.0" lengthAdjust="spacingAndGlyphs">−1</text>
<text x="102.6" y="0" font-size="15.6" textLength="4.2" lengthAdjust="spacingAndGlyphs">]</text>
</g>
</g>
</svg>
</body></html>
